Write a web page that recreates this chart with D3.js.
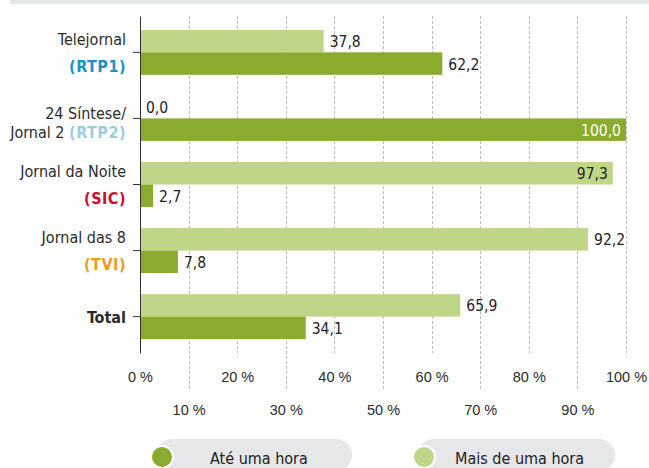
<!DOCTYPE html>
<html>
<head>
<meta charset="utf-8">
<script src="https://cdn.jsdelivr.net/npm/d3@7"></script>
<style>
  body { margin: 0; background: #fff; }
  svg { display: block; font-family: "DejaVu Sans Condensed", "DejaVu Sans", sans-serif; font-stretch: condensed; }
</style>
</head>
<body>
<div id="chart"></div>
<script>
const width = 649;
const height = 468;

// data
const line1 = ['Telejornal', '24 Síntese/', 'Jornal da Noite', 'Jornal das 8', 'Total'];
const line2Prefix = ['', 'Jornal 2 ', '', '', ''];
const channels = ['(RTP1)', '(RTP2)', '(SIC)', '(TVI)', ''];
const channelColors = ['#1a93c6', '#9ccbe5', '#c8102e', '#f39a1e', '#222'];
const maisDeUmaHora = [37.8, 0.0, 97.3, 92.2, 65.9];
const ateUmaHora = [62.2, 100.0, 2.7, 7.8, 34.1];
const xTicks = [0, 10, 20, 30, 40, 50, 60, 70, 80, 90, 100];
const seriesNames = ['Até uma hora', 'Mais de uma hora'];

const darkGreen = '#89ab2e';
const lightGreen = '#bfd587';

const svg = d3.select('#chart')
    .append('svg')
    .attr('width', width)
    .attr('height', height);

// grey strip on top
svg.append('rect')
    .attr('x', 10).attr('y', 0)
    .attr('width', width - 10).attr('height', 4)
    .attr('fill', '#e6e7e8');

const x = d3.scaleLinear().domain([0, 100]).range([140, 626]);
const y = d3.scaleBand()
    .domain(d3.range(line1.length))
    .range([16, 353])
    .paddingInner(0.32)
    .paddingOuter(0.21);
const sub = d3.scaleBand()
    .domain(['mais', 'ate'])
    .range([0, y.bandwidth()]);

// grid lines, every other one running down to the second label row
svg.append('g')
    .selectAll('line')
    .data(xTicks.filter(t => t > 0))
    .join('line')
    .attr('x1', d => Math.round(x(d)) + 0.5)
    .attr('x2', d => Math.round(x(d)) + 0.5)
    .attr('y1', 16)
    .attr('y2', d => (d / 10) % 2 ? 391 : 353)
    .attr('stroke', '#bdbdbd')
    .attr('stroke-dasharray', '3,2');

// bars
const groups = svg.append('g')
    .selectAll('g')
    .data(line1.map((d, i) => i))
    .join('g')
    .attr('transform', i => `translate(0,${y(i)})`);

const fmt = v => d3.format('.1f')(v).replace('.', ',');

const barData = i => [
    {key: 'mais', value: maisDeUmaHora[i], color: lightGreen, text: '#222'},
    {key: 'ate', value: ateUmaHora[i], color: darkGreen, text: '#fff'}
];

groups.selectAll('rect')
    .data(barData)
    .join('rect')
    .attr('x', x(0))
    .attr('y', d => sub(d.key))
    .attr('width', d => x(d.value) - x(0))
    .attr('height', sub.bandwidth())
    .attr('fill', d => d.color);

groups.selectAll('text.value')
    .data(barData)
    .join('text')
    .attr('class', 'value')
    .attr('x', d => d.value > 95 ? x(d.value) - 5 : x(d.value) + 6)
    .attr('y', d => sub(d.key) + sub.bandwidth() / 2 + 6)
    .attr('text-anchor', d => d.value > 95 ? 'end' : 'start')
    .attr('fill', d => d.value > 95 ? d.text : '#222')
    .attr('font-size', 15.5)
    .text(d => fmt(d.value));

// y axis
svg.append('g')
    .attr('transform', `translate(${x(0)},0)`)
    .call(d3.axisLeft(y).tickSize(7).tickSizeOuter(0).tickFormat(''))
    .call(g => g.selectAll('line, path').attr('stroke', '#333'));

// category labels
const labels = svg.append('g')
    .selectAll('text')
    .data(line1.map((d, i) => i))
    .join('text')
    .attr('text-anchor', 'end')
    .attr('font-size', 16)
    .attr('fill', '#2b2b2b');

labels.each(function (i) {
    const t = d3.select(this);
    const c = y(i) + y.bandwidth() / 2;
    if (!channels[i]) {
        t.append('tspan')
            .attr('x', 126).attr('y', c + 6)
            .attr('font-weight', 'bold')
            .text(line1[i]);
        return;
    }
    t.append('tspan')
        .attr('x', 126).attr('y', c + (i === 1 ? 0.5 : -7.5))
        .text(line1[i]);
    const ch = t.append('tspan');
    if (line2Prefix[i]) {
        ch.attr('x', 126).attr('y', c + 19.5).text(line2Prefix[i]);
        t.append('tspan')
            .attr('font-weight', 'bold')
            .attr('letter-spacing', 0.5)
            .attr('fill', channelColors[i])
            .text(channels[i]);
    } else {
        ch.attr('x', 126).attr('y', c + 19.5)
            .attr('font-weight', 'bold')
            .attr('letter-spacing', 0.5)
            .attr('fill', channelColors[i])
            .text(channels[i]);
    }
});

// x axis labels in two staggered rows
svg.append('g')
    .attr('transform', 'translate(0,353)')
    .call(d3.axisBottom(x).tickValues(xTicks).tickSize(0).tickFormat(d => d + ' %'))
    .call(g => g.select('.domain').remove())
    .call(g => g.selectAll('text')
        .attr('font-family', null)
        .attr('font-size', 14.5)
        .attr('fill', '#2b2b2b')
        .attr('dy', null)
        .attr('y', d => (d / 10) % 2 ? 62 : 29));

// legend
const legend = svg.append('g')
    .selectAll('g')
    .data(seriesNames)
    .join('g')
    .attr('transform', (d, i) => `translate(${i ? 424 : 162},457)`);

legend.append('rect')
    .attr('x', -6).attr('y', -18)
    .attr('width', (d, i) => i ? 197 : 196).attr('height', 32)
    .attr('rx', 16)
    .attr('fill', '#e6e7e8');

legend.append('circle')
    .attr('r', 11)
    .attr('fill', (d, i) => i ? lightGreen : darkGreen)
    .attr('stroke', '#fff')
    .attr('stroke-width', 2);

legend.append('text')
    .attr('x', (d, i) => i ? 31 : 48)
    .attr('y', 7)
    .attr('font-size', 16)
    .attr('fill', '#222')
    .text(d => d);
</script>
</body>
</html>
